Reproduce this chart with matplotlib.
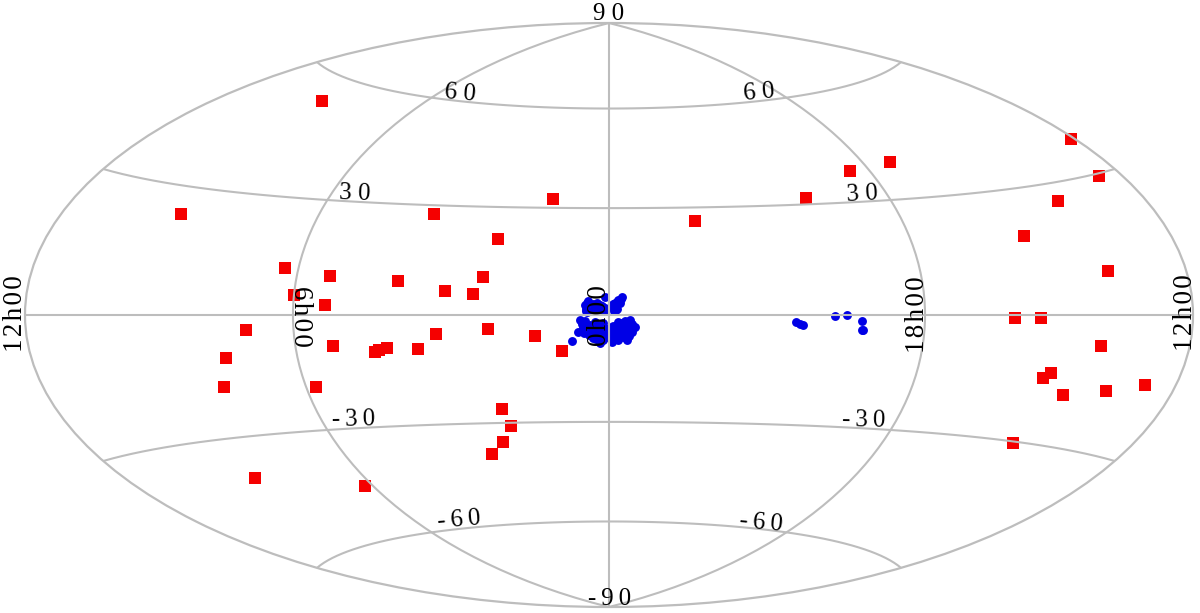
import matplotlib
matplotlib.use('Agg')
import matplotlib.pyplot as plt
import numpy as np

# positions, degrees
red_ra = [135.4,136.1,53.7,17.7,32.5,94.0,79.9,90.1,80.4,59.7,46.0,38.0,35.5,104.6,112.3,116.2,87.1,78.6,66.5,65.5,63.1,53.9,48.4,33.7,20.6,13.2,32.3,30.6,34.5,39.5,130.3,92.9,334.1,297.0,277.0,260.2,181.5,189.1,213.1,232.8,209.0,242.2,233.8,212.5,226.9,228.9,219.5,205.0,192.0,224.8]
red_dec = [54.1,23.6,27.6,32.5,21.0,12.0,10.2,5.1,2.6,9.1,6.5,5.8,10.4,-3.7,-10.6,-17.6,-18.7,-8.1,-9.9,-9.3,-8.8,-9.2,-5.2,-3.8,-5.8,-10.0,-26.1,-30.9,-35.4,-38.8,-39.9,-45.5,26.2,31.8,38.4,39.8,37.3,29.5,25.9,18.8,9.7,-0.7,-0.7,-7.0,-13.5,-14.8,-18.3,-16.6,-14.5,-30.3]
blue_ra = [1.1,356.5,357.4,358.3,359.3,358.3,6.2,2.5,3.9,2.0,6.2,6.7,8.0,6.7,5.3,8.5,7.1,5.7,4.4,2.5,3.4,1.6,359.3,357.9,356.5,354.2,355.1,353.2,354.6,358.8,356.9,355.1,359.3,357.4,356.0,352.8,353.7,1.1,0.2,10.4,307.5,306.6,305.6,296.5,293.0,288.7,288.5,288.1,
           7.5,6.0,4.5,3.0,1.5,0.5,7.0,5.5,4.0,2.5,1.0,3.5,2.0,4.0,1.8,
           358.5,357.0,355.5,354.0,358.0,356.0,358.9,355.5,354.5,353.5,357.5,356.5,
           6.5,5.5,4.5,3.0,5.8,1.2,4.5,3.3,2.0,6.5,1.0,
           358.8,358.2,357.8,357.0,357.7,358.7,356.7]
blue_dec = [5.1,4.9,4.2,3.2,2.3,1.2,3.4,2.8,2.1,1.4,0.9,2.8,-1.4,-1.8,-2.8,-4.6,-3.7,-5.6,-6.5,-7.9,-4.2,-2.3,-3.2,-2.8,-2.3,-1.4,-2.8,-3.7,-4.6,-5.1,-5.6,-6.9,-7.4,-6.9,-4.2,-3.2,-4.6,-5.6,-6.0,-7.2,-1.8,-2.4,-2.8,-0.4,0.1,-1.6,-4.0,-4.0,
            -2.5,-3.5,-3.0,-3.0,-3.5,-4.0,-5.0,-4.5,-5.0,-5.0,-4.8,-6.8,-6.5,-2.0,-7.0,
            -4.0,-4.5,-5.0,-3.5,-6.5,-6.2,-3.0,-1.8,-5.8,-2.5,-2.0,-3.5,
            1.8,1.2,1.2,1.2,3.8,2.0,3.0,3.2,2.5,1.2,1.2,
            3.0,2.2,3.6,3.2,1.6,1.2,4.4]

# thin spaces give the tighter letter spacing of some of the original labels
dec_labels = ['9 0','6 0','6 0','3 0','3 0','-\u20093\u20090','-\u20093\u20090','-\u20096\u20090','-\u20096\u20090','-\u20099\u20090']
dec_px = [(609,14),(460,93),(759,93),(355,194),(862,194),(354,420),(864,420),(459,520),(761,523),(610,599)]
dec_rot = [0,-5,5,-2,3,1,-1,5,-5,0]
ra_labels = ['1\u200a2\u200ah\u200a0\u200a0','6\u200ah\u200a0\u200a0','0\u200ah\u200a0\u200a0','1\u200a8\u200ah\u200a0\u200a0','1\u200a2\u200ah\u200a0\u200a0']
ra_px = [(16,314),(301,316),(600,316),(918,315),(1186,313)]
ra_rot = [90,-90,90,90,90]

def to_lon(ra):
    return np.radians((180 - np.array(ra)) % 360 - 180)

W, H = 1200, 613
fig = plt.figure(figsize=(W/100, H/100), dpi=100)
ax = fig.add_axes([24/W, (H-607)/H, 1170/W, 584/H], projection='hammer')
ax.set_longitude_grid(90)
ax.set_latitude_grid(30)
ax.set_longitude_grid_ends(90)
ax.xaxis.set_ticklabels([])
ax.yaxis.set_ticklabels([])
ax.set_axisbelow(False)
ax.grid(True, color='#bdbdbd', lw=1.5)
for s in ax.spines.values():
    s.set_edgecolor('#bdbdbd')
    s.set_linewidth(1.6)

ax.plot(to_lon(red_ra), np.radians(red_dec), 's', color='#f50000', ms=8.6, mew=0, zorder=1, clip_on=False)
ax.plot(to_lon(blue_ra), np.radians(blue_dec), 'o', color='#0000e6', ms=6.4, mew=0, zorder=1, clip_on=False)

for labs, pos, rots, size in ((dec_labels, dec_px, dec_rot, 18), (ra_labels, ra_px, ra_rot, 19.5)):
    for t, (x, y), r in zip(labs, pos, rots):
        fig.text(x/W, 1-y/H, t, family=['Liberation Serif', 'DejaVu Serif'], fontsize=size, rotation=r,
                 ha='center', va='center', rotation_mode='anchor', zorder=5)

fig.savefig('out.png', dpi=100)
